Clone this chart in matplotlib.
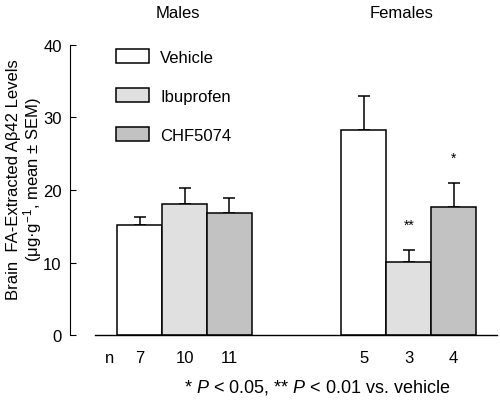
import matplotlib
matplotlib.use("Agg")
import matplotlib.pyplot as plt
import numpy as np

plt.rcParams["font.family"] = ["Liberation Sans", "DejaVu Sans"]
plt.rcParams["mathtext.fontset"] = "custom"
plt.rcParams["mathtext.rm"] = "Liberation Sans"
plt.rcParams["mathtext.it"] = "Liberation Sans:italic"
plt.rcParams["font.size"] = 12

treatments = ["Vehicle", "Ibuprofen", "CHF5074"]
colors     = ["#ffffff", "#e0e0e0", "#c2c2c2"]

male_mean   = [15.2, 18.1, 16.8]
male_sem    = [1.1, 2.2, 2.1]
male_n      = [7, 10, 11]
female_mean = [28.3, 10.1, 17.6]
female_sem  = [4.6, 1.6, 3.3]
female_n    = [5, 3, 4]
female_sig  = ["", "**", "*"]

male_x   = np.arange(3)
female_x = np.arange(3) + 5

fig = plt.figure(figsize=(5.0, 4.02), dpi=100)
ax = fig.add_axes([0.19, 0.164, 0.804, 0.722])

for i in range(3):
    for x, m, s in ((male_x[i], male_mean[i], male_sem[i]),
                    (female_x[i], female_mean[i], female_sem[i])):
        ax.bar(x, m, width=1.0, color=colors[i], edgecolor="black",
               linewidth=1.1, zorder=2,
               label=treatments[i] if x < 5 else None)
        ax.errorbar(x, m, yerr=[[0], [s]], fmt="none", ecolor="black",
                    elinewidth=1.1, capsize=4, capthick=1.1, zorder=1)

for x, m, s, sig in zip(female_x, female_mean, female_sem, female_sig):
    if sig:
        ax.text(x, m + s + 2.6, sig, ha="center", va="bottom", fontsize=10)

ax.set_xlim(-1.0, 7.97)
ax.set_ylim(0, 40)
ax.set_yticks([0, 10, 20, 30, 40])
ax.tick_params(axis="y", direction="in", length=4, width=0.8, pad=6, labelsize=12)

ax.set_xticks(list(male_x) + list(female_x),
              [str(v) for v in male_n + female_n])
ax.tick_params(axis="x", length=0, pad=11, labelsize=12)
ax.text(-0.67, -0.053, "n", transform=ax.get_xaxis_transform(),
        ha="center", va="top", fontsize=12)

for side in ("top", "right"):
    ax.spines[side].set_visible(False)
ax.spines["left"].set_position(("outward", 18))
ax.spines["left"].set_linewidth(0.8)
ax.spines["bottom"].set_linewidth(1.0)

ax.legend(loc="upper left", bbox_to_anchor=(116 / 500, 1 - 50 / 402),
          bbox_transform=fig.transFigure, frameon=False, borderpad=0,
          borderaxespad=0, handlelength=2.0, handleheight=0.87,
          labelspacing=1.42, handletextpad=0.66, fontsize=12)

fig.text(178 / 500, 1 - 14 / 402, "Males", ha="center", va="center", fontsize=12)
fig.text(402 / 500, 1 - 14 / 402, "Females", ha="center", va="center", fontsize=12)

fig.text(25 / 500, 1 - 180 / 402,
         "Brain  FA-Extracted A\u03b242 Levels\n(\u03bcg\u00b7g$^{-1}$, mean \u00b1 SEM)",
         rotation=90, ha="center", va="center", multialignment="center",
         fontsize=12, linespacing=1.05)

fig.text(317 / 500, 1 - 388 / 402,
         "* $P$ < 0.05, ** $P$ < 0.01 vs. vehicle",
         ha="center", va="center", fontsize=13)

fig.savefig("out.png", dpi=100)
